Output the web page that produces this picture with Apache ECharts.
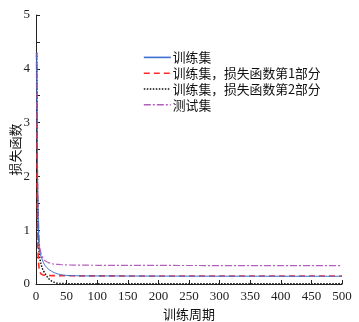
<!DOCTYPE html>
<html>
<head>
<meta charset="utf-8">
<script src="https://cdn.jsdelivr.net/npm/echarts@6/dist/echarts.min.js"></script>
<style>
  html, body { margin: 0; padding: 0; background: #fff; }
  #chart { width: 359px; height: 322px; }
</style>
</head>
<body>
<div id="chart"></div>
<script>
// Loss curves over training epochs
const epochs = [1, 2, 3, 4, 5, 6, 8, 10, 12, 15, 20, 25, 30, 35, 40, 50, 60, 80, 100, 150, 200, 250, 300, 350, 400, 450, 500];
const trainLoss = [4.3, 2.6, 1.5, 1.0, 0.75, 0.6, 0.52, 0.46, 0.4, 0.34, 0.28, 0.24, 0.21, 0.19, 0.175, 0.16, 0.155, 0.15, 0.15, 0.148, 0.147, 0.146, 0.145, 0.145, 0.144, 0.144, 0.143];
const lossPart1 = [4.3, 1.8, 0.7, 0.42, 0.3, 0.23, 0.19, 0.175, 0.168, 0.162, 0.158, 0.156, 0.155, 0.154, 0.153, 0.152, 0.152, 0.151, 0.151, 0.15, 0.15, 0.15, 0.15, 0.15, 0.15, 0.15, 0.15];
const lossPart2 = [4.3, 2.2, 1.1, 0.75, 0.6, 0.5, 0.38, 0.3, 0.25, 0.19, 0.11, 0.06, 0.03, 0.015, 0.01, 0.006, 0.005, 0.005, 0.004, 0.004, 0.004, 0.004, 0.004, 0.004, 0.004, 0.004, 0.004];
const testLoss = [4.3, 2.8, 1.7, 1.2, 0.9, 0.7, 0.58, 0.52, 0.47, 0.43, 0.4, 0.38, 0.37, 0.365, 0.36, 0.355, 0.352, 0.35, 0.348, 0.346, 0.345, 0.344, 0.343, 0.343, 0.342, 0.342, 0.342];
const seriesNames = ['训练集', '训练集，损失函数第1部分', '训练集，损失函数第2部分', '测试集'];
const xTicks = [0, 50, 100, 150, 200, 250, 300, 350, 400, 450, 500];
const yTicks = [0, 1, 2, 3, 4, 5];

const serifFont = '"Liberation Serif", "Noto Sans CJK SC", serif';
const cjkFont = '"Noto Sans CJK SC", "Liberation Serif", serif';

function pairs(ys) { return epochs.map((x, i) => [x, ys[i]]); }

const styles = [
  { color: '#3e6fd2', type: 'solid', width: 1 },
  { color: '#ff2a2a', type: [6, 4], width: 1.6 },
  { color: '#111111', type: [1.5, 1.5], width: 1.5 },
  { color: '#b35fbf', type: [7, 2, 2, 2], width: 1.2 }
];
const values = [trainLoss, lossPart1, lossPart2, testLoss];

const chart = echarts.init(document.getElementById('chart'), null, { renderer: 'canvas' });
chart.setOption({
  animation: false,
  backgroundColor: '#fff',
  grid: { left: 36, right: 17, top: 15, bottom: 38, outerBoundsMode: 'none', containLabel: false },
  legend: {
    orient: 'vertical',
    left: 138,
    top: 46,
    itemWidth: 27,
    itemHeight: 10,
    itemGap: 3,
    data: seriesNames.map((n, i) => ({
      name: n,
      itemStyle: { opacity: 0 },
      lineStyle: { color: styles[i].color, type: styles[i].type, width: 1.6, opacity: 1 }
    })),
    textStyle: { fontFamily: cjkFont, fontSize: 12.8, color: '#111', padding: [0, 0, 0, -3] }
  },
  xAxis: {
    type: 'value',
    min: 0,
    max: 500,
    interval: 50,
    name: '训练周期',
    nameLocation: 'middle',
    nameGap: 24,
    nameTextStyle: { fontFamily: cjkFont, fontSize: 13, color: '#111' },
    axisLine: { lineStyle: { color: '#222', width: 1 } },
    axisTick: { inside: true, length: 4, lineStyle: { color: '#222' } },
    axisLabel: { fontFamily: serifFont, fontSize: 13, color: '#222', margin: 6,
      formatter: v => xTicks.includes(v) ? String(v) : '' },
    splitLine: { show: false }
  },
  yAxis: {
    type: 'value',
    min: 0,
    max: 5,
    interval: 1,
    name: '损失函数',
    nameLocation: 'middle',
    nameGap: 14,
    nameMoveOverlap: false,
    nameTextStyle: { fontFamily: cjkFont, fontSize: 13, color: '#111' },
    axisLine: { show: true, lineStyle: { color: '#222', width: 1 } },
    axisTick: { show: true, inside: true, length: 4, lineStyle: { color: '#222' } },
    minorTick: { show: true, splitNumber: 2, length: 4, lineStyle: { color: '#222' } },
    axisLabel: { fontFamily: serifFont, fontSize: 13, color: '#222', margin: 6,
      formatter: v => yTicks.includes(v) ? String(v) : '' },
    splitLine: { show: false }
  },
  series: seriesNames.map((name, i) => ({
    name: name,
    type: 'line',
    data: pairs(values[i]),
    showSymbol: false,
    symbol: 'none',
    smooth: 0.3,
    color: styles[i].color,
    lineStyle: { color: styles[i].color, type: styles[i].type, width: styles[i].width },
    z: 4 - i
  }))
});
</script>
</body>
</html>
